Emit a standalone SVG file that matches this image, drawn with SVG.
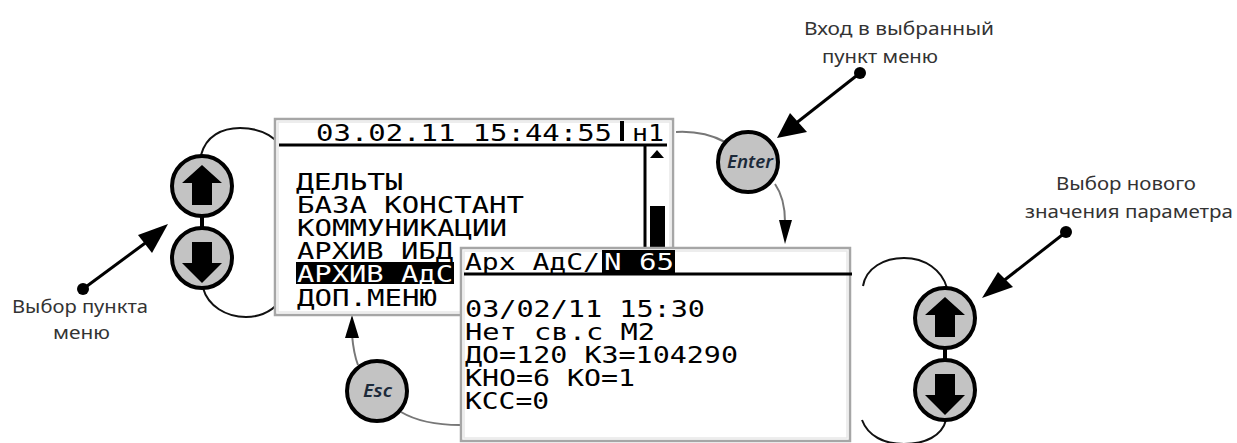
<svg xmlns="http://www.w3.org/2000/svg" width="1237" height="443" viewBox="0 0 1237 443">
<style>
.lcd{font-family:"DejaVu Sans Mono","Liberation Mono",monospace;font-size:23px;fill:#000}
.inv{fill:#fff}
.lbl{font-family:"Noto Sans","Open Sans",sans-serif;font-size:17.5px;fill:#333}
.frame{fill:#fff;stroke:#a6a6a6;stroke-width:2.5}
.inner{fill:none;stroke:#e8e8e8;stroke-width:1.5}
.rule{stroke:#000;stroke-width:3;fill:none}
.arc{fill:none;stroke:#111;stroke-width:2}
.flow{fill:none;stroke:#777;stroke-width:2}
.btn{fill:#c3c3c3;stroke:#000;stroke-width:4}
.key{font-family:"Noto Sans","Open Sans",sans-serif;font-style:italic;font-weight:600;font-size:18px;fill:#1c2a3a}
.call{stroke:#000;stroke-width:3;fill:none}
</style>
<defs>
<g id="up"><circle class="btn" r="30"/><path d="M0-21L20-3H10V19H-10V-3H-20Z" fill="#000"/></g>
<g id="down"><circle class="btn" r="30"/><path d="M0 25L20 5H10V-16H-10V5H-20Z" fill="#000"/></g>
</defs>
<g id="connectors">
<path class="arc" d="M201 155C206 136 222 128 240 128C262 128 280 138 284 155"/>
<path class="arc" d="M203 288C208 306 226 317 246 317C266 317 282 305 287 288"/>
<path class="arc" d="M863 286C866 268 884 258 904 258C925 258 942 270 947 288"/>
<path class="arc" d="M862 420C868 436 884 444 904 444C925 444 942 436 946 420"/>
<path class="flow" d="M676 132C694 131 710 134 725 142"/>
<path class="flow" d="M775 184C782 194 785 206 785 222"/>
<polygon points="779,220 792,220 785,244" fill="#000"/>
<path class="flow" d="M401 412C418 422 438 425 460 425"/>
<path class="flow" d="M358 365C354 355 353 346 352 335"/>
<polygon points="345,338 359,338 352,315" fill="#000"/>
<line class="call" x1="860" y1="73" x2="795" y2="124"/>
<circle cx="860" cy="73" r="6" fill="#000"/>
<polygon points="777,138 790,113 807,132" fill="#000"/>
<line class="call" x1="1066" y1="232" x2="1002" y2="282"/>
<circle cx="1066" cy="232" r="6" fill="#000"/>
<polygon points="982,298 998,272 1013,287" fill="#000"/>
<line class="call" x1="83" y1="289" x2="148" y2="241"/>
<circle cx="83" cy="289" r="6" fill="#000"/>
<polygon points="168,224 138,235 152,253" fill="#000"/>
</g>
<g id="screen-menu">
<rect class="frame" x="275" y="119" width="398" height="196"/>
<rect class="inner" x="278" y="122" width="392" height="190"/>
<text class="lcd" x="316" y="141" textLength="296" lengthAdjust="spacingAndGlyphs">03.02.11 15:44:55</text>
<rect x="620" y="121" width="4" height="20" fill="#000"/>
<text class="lcd" x="632" y="141" textLength="32" lengthAdjust="spacingAndGlyphs">н1</text>
<line class="rule" x1="279" y1="145" x2="667" y2="145"/>
<line class="rule" x1="645" y1="146" x2="645" y2="250"/>
<polygon points="657,150 664,158 650,158" fill="#000"/>
<rect x="650" y="206" width="15" height="44" fill="#000"/>
<text class="lcd" x="296" y="190" textLength="107" lengthAdjust="spacingAndGlyphs">ДЕЛЬТЫ</text>
<text class="lcd" x="297" y="213" textLength="227" lengthAdjust="spacingAndGlyphs">БАЗА КОНСТАНТ</text>
<text class="lcd" x="297" y="236" textLength="210" lengthAdjust="spacingAndGlyphs">КОММУНИКАЦИИ</text>
<text class="lcd" x="297" y="259" textLength="156" lengthAdjust="spacingAndGlyphs">АРХИВ ИБД</text>
<rect x="296" y="262" width="158" height="22" fill="#000"/>
<text class="lcd inv" x="297" y="282" textLength="156" lengthAdjust="spacingAndGlyphs">АРХИВ АдС</text>
<text class="lcd" x="297" y="306" textLength="140" lengthAdjust="spacingAndGlyphs">ДОП.МЕНЮ</text>
</g>
<g id="screen-param">
<rect class="frame" x="461" y="248" width="389" height="193"/>
<rect class="inner" x="464" y="251" width="383" height="187"/>
<text class="lcd" x="465" y="270" textLength="135" lengthAdjust="spacingAndGlyphs">Арх АдС/</text>
<rect x="602" y="250" width="73" height="23" fill="#000"/>
<text class="lcd inv" x="604" y="270" textLength="70" lengthAdjust="spacingAndGlyphs">N 65</text>
<line class="rule" x1="464" y1="274" x2="852" y2="274"/>
<text class="lcd" x="465" y="317" textLength="240" lengthAdjust="spacingAndGlyphs">03/02/11 15:30</text>
<text class="lcd" x="465" y="340" textLength="190" lengthAdjust="spacingAndGlyphs">Нет св.с М2</text>
<text class="lcd" x="465" y="363" textLength="273" lengthAdjust="spacingAndGlyphs">ДО=120 КЗ=104290</text>
<text class="lcd" x="465" y="386" textLength="170" lengthAdjust="spacingAndGlyphs">КНО=6 КО=1</text>
<text class="lcd" x="465" y="409" textLength="84" lengthAdjust="spacingAndGlyphs">КСС=0</text>
</g>
<g id="nav-left">
<rect x="200" y="215" width="4" height="15" fill="#000"/>
<use href="#up" x="202" y="186"/>
<use href="#down" x="202" y="258"/>
</g>
<g id="nav-right">
<rect x="943" y="347" width="4" height="15" fill="#000"/>
<use href="#up" x="945" y="318"/>
<use href="#down" x="945" y="390"/>
</g>
<g id="enter"><circle class="btn" cx="748" cy="162" r="30"/><text class="key" x="727" y="168" textLength="46" lengthAdjust="spacingAndGlyphs">Enter</text></g>
<g id="esc"><circle class="btn" cx="377" cy="391" r="30"/><text class="key" x="363" y="397" textLength="29" lengthAdjust="spacingAndGlyphs">Esc</text></g>
<g id="label-enter">
<text class="lbl" x="804" y="35" textLength="190" lengthAdjust="spacingAndGlyphs">Вход в выбранный</text>
<text class="lbl" x="822" y="63" textLength="116" lengthAdjust="spacingAndGlyphs">пункт меню</text>
</g>
<g id="label-left">
<text class="lbl" x="12" y="313" textLength="136" lengthAdjust="spacingAndGlyphs">Выбор пункта</text>
<text class="lbl" x="53" y="339" textLength="57" lengthAdjust="spacingAndGlyphs">меню</text>
</g>
<g id="label-right">
<text class="lbl" x="1056" y="190" textLength="140" lengthAdjust="spacingAndGlyphs">Выбор нового</text>
<text class="lbl" x="1025" y="218" textLength="208" lengthAdjust="spacingAndGlyphs">значения параметра</text>
</g>
</svg>
